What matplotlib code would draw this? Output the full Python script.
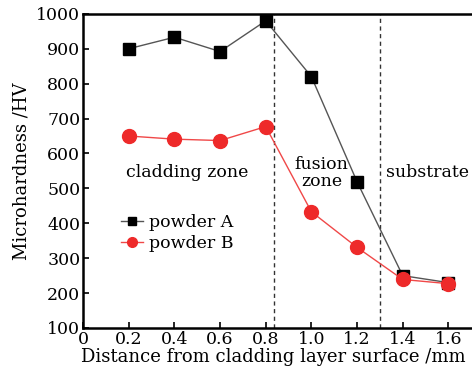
import matplotlib
matplotlib.use("Agg")
import matplotlib.pyplot as plt

x = [0.2, 0.4, 0.6, 0.8, 1.0, 1.2, 1.4, 1.6]
powder_a = [900, 933, 892, 980, 820, 519, 250, 230]
powder_b = [650, 641, 637, 677, 433, 331, 239, 227]
boundaries = [0.835, 1.30]
xticks = [0, 0.2, 0.4, 0.6, 0.8, 1.0, 1.2, 1.4, 1.6]
xticklabels = ["0", "0.2", "0.4", "0.6", "0.8", "1.0", "1.2", "1.4", "1.6"]
yticks = [100, 200, 300, 400, 500, 600, 700, 800, 900, 1000]

plt.rcParams['font.family'] = ['DejaVu Serif']
fig = plt.figure(figsize=(4.72, 3.74), dpi=100)
ax = fig.add_axes([0.176, 0.123, 0.832, 0.840])

ax.plot(x, powder_a, color='#555555', lw=1.0, marker='s', ms=9,
        mfc='black', mec='black', label='powder A', zorder=3)
ax.plot(x, powder_b, color='#f04848', lw=1.0, marker='o', ms=10,
        mfc='#ee2a2a', mec='#ee2a2a', label='powder B', zorder=3)
for b in boundaries:
    ax.axvline(b, color='#333333', lw=1.0, ls=(0, (3, 2.5)), zorder=2)

ax.set_xlim(0, 1.72)
ax.set_ylim(100, 1000)
ax.set_xticks(xticks)
ax.set_xticklabels(xticklabels)
ax.set_yticks(yticks)
ax.tick_params(direction='in', length=4, width=1.2, labelsize=12.5, pad=2)
for s in ['left', 'bottom', 'top']:
    ax.spines[s].set_linewidth(1.8)
ax.spines['right'].set_visible(False)

ax.set_xlabel('Distance from cladding layer surface /mm', fontsize=13, labelpad=0, x=0.485)
ax.set_ylabel('Microhardness /HV', fontsize=13, labelpad=4)

ax.text(0.19, 545, 'cladding zone', fontsize=12.5, ha='left', va='center')
ax.text(1.045, 545, 'fusion\nzone', fontsize=12.5, ha='center', va='center',
        linespacing=1.0)
ax.text(1.325, 545, 'substrate', fontsize=12.5, ha='left', va='center')

leg = ax.legend(loc='upper left', bbox_to_anchor=(0.065, 0.40), frameon=False,
                fontsize=12.5, handlelength=1.3, handletextpad=0.3,
                labelspacing=0.2, borderpad=0.2, markerscale=0.7)

fig.savefig('out.png', dpi=100)
